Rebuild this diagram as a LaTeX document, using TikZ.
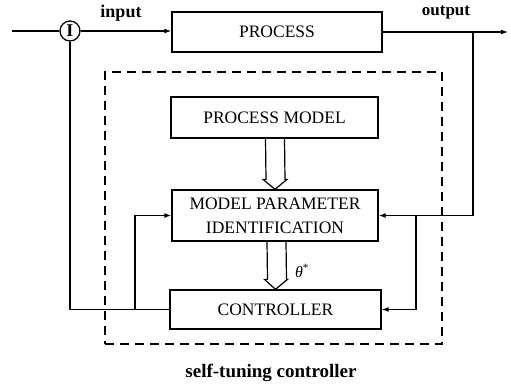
\documentclass[tikz,border=0pt]{standalone}
\usepackage{fontspec}
\setmainfont{Liberation Serif}
\usetikzlibrary{arrows.meta,calc}
\begin{document}
\begin{tikzpicture}[x=1pt,y=-1pt,
  line width=1.3pt,
  blk/.style={draw, rectangle, inner sep=0pt, font=\fontsize{17.5}{24}\selectfont, align=center},
  lbl/.style={font=\bfseries\fontsize{17}{17}\selectfont, inner sep=0pt},
  tip/.style={-{Latex[length=7pt,width=5pt]}},
  hollow/.style={line width=1.2pt, line join=miter}
]
\useasboundingbox (0,0) rectangle (511,391);
% blocks
\node[blk, minimum width=210pt, minimum height=40pt] (proc) at (277,32) {PROCESS};
\node[blk, minimum width=207pt, minimum height=41pt] (pm) at (274.5,117.5) {PROCESS MODEL};
\node[blk, minimum width=206pt, minimum height=51pt] (mpi) at (275,215.5) {MODEL PARAMETER\\IDENTIFICATION};
\node[blk, minimum width=211pt, minimum height=39pt] (ctrl) at (275.5,309.5) {CONTROLLER};
\node[draw, circle, minimum size=20pt, inner sep=0pt, font=\bfseries\fontsize{18}{18}\selectfont] (sum) at (70,31) {I};
% dashed frame
\node[draw, dash pattern=on 9pt off 6pt, minimum width=337pt, minimum height=272pt, inner sep=0pt] (stc) at (273.5,208) {};
% labels
\node[lbl, font=\bfseries\fontsize{18}{18}\selectfont] (inlbl) at (121,13) {input};
\node[lbl] (outlbl) at (446,13) {output};
\node[lbl, font=\bfseries\fontsize{19}{19}\selectfont] (cap) at (271,373) {self-tuning controller};
\node[font=\fontsize{16}{16}\selectfont, inner sep=0pt] (theta) at (302,271) {\textit{θ}\textsuperscript{*}};
% signal lines
\coordinate (in) at (12,31);
\coordinate (out) at (508,32);
\coordinate (tap) at (473,32);
\coordinate (tap2) at (416,215.5);
\coordinate (j) at (135,309.5);
\draw (in) -- (sum.west);
\draw[tip] (sum.east) -- (proc.west |- sum.east);
\draw[tip] (proc.east) -- (out);
\draw[tip] (tap) |- (mpi.east);
\draw[tip] (tap2) |- (ctrl.east);
\draw (ctrl.west) -| (sum.south);
\draw[tip] (j) |- (mpi.west);
% hollow arrows
\draw[hollow] ($(pm.south)+(-9,0)$) -- ($(mpi.north)+(-9,-10)$) -- ($(mpi.north)+(-12,-10)$) -- (mpi.north)
  -- ($(mpi.north)+(12,-10)$) -- ($(mpi.north)+(10,-10)$) -- ($(pm.south)+(10,0)$);
\draw[hollow] ($(mpi.south)+(-8,0)$) -- ($(ctrl.north)+(-8,-10)$) -- ($(ctrl.north)+(-11,-10)$) -- (ctrl.north)
  -- ($(ctrl.north)+(12,-10)$) -- ($(ctrl.north)+(11,-10)$) -- ($(mpi.south)+(11,0)$);
\end{tikzpicture}
\end{document}
